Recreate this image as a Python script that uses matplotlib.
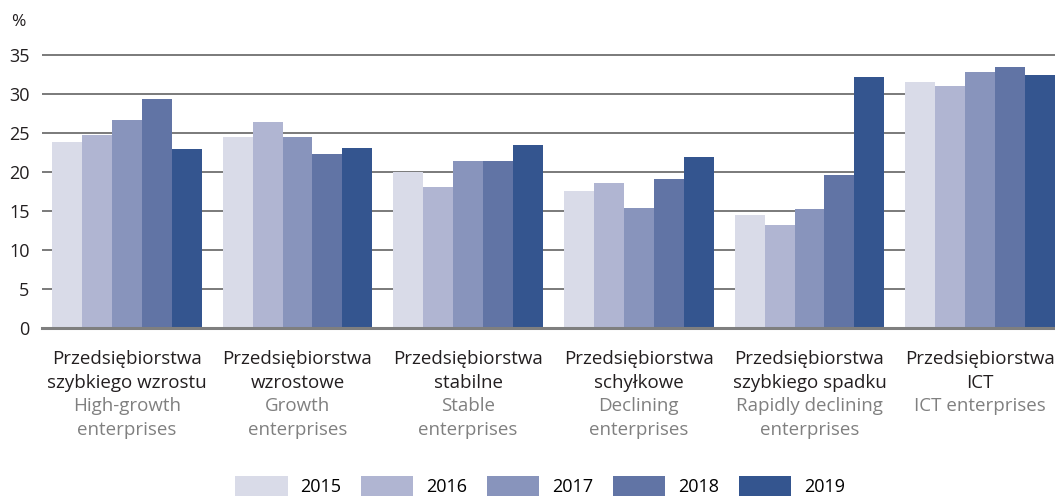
import matplotlib.pyplot as plt
import numpy as np

plt.rcParams['font.family'] = ['Open Sans', 'DejaVu Sans']

years = ['2015', '2016', '2017', '2018', '2019']
colors = ['#d9dbe8', '#b0b5d2', '#8894bc', '#6174a5', '#34558f']

labels_pl = ['Przedsiębiorstwa\nszybkiego wzrostu', 'Przedsiębiorstwa\nwzrostowe',
             'Przedsiębiorstwa\nstabilne', 'Przedsiębiorstwa\nschyłkowe',
             'Przedsiębiorstwa\nszybkiego spadku', 'Przedsiębiorstwa\nICT']
labels_en = ['High-growth\nenterprises', 'Growth\nenterprises', 'Stable\nenterprises',
             'Declining\nenterprises', 'Rapidly declining\nenterprises', 'ICT enterprises']

v2015 = [23.9, 24.5, 20.0, 17.6, 14.5, 31.6]
v2016 = [24.8, 26.5, 18.1, 18.6, 13.2, 31.1]
v2017 = [26.7, 24.5, 21.4, 15.4, 15.3, 32.9]
v2018 = [29.4, 22.3, 21.4, 19.1, 19.7, 33.5]
v2019 = [23.0, 23.1, 23.5, 22.0, 32.2, 32.5]
series = [v2015, v2016, v2017, v2018, v2019]

W, H = 1055, 497
fig = plt.figure(figsize=(W / 100, H / 100), dpi=100)
ax = fig.add_axes([42 / W, (H - 328.3) / H, 1 - 42 / W, (328.3 - 51.4) / H])

x = np.arange(len(labels_pl))
w = 30 / 171
for j, vals in enumerate(series):
    ax.bar(x + (j - 2) * w, vals, width=w, color=colors[j], label=years[j], zorder=3)

ax.set_xlim(-0.497, 5 + 2.5 * w)
ax.set_ylim(0, 35.5)
ax.set_yticks(range(0, 36, 5))
for t in range(5, 36, 5):
    ax.axhline(t, color='#7a7a7a', lw=1.4, zorder=1)
ax.axhline(0, color='#7f7f7f', lw=2.2, zorder=4, clip_on=False)
for s in ax.spines.values():
    s.set_visible(False)
ax.tick_params(axis='y', length=0, pad=9, labelsize=13, labelcolor='#231f20')
ax.set_xticks([])

fig.text(18 / W, (H - 22) / H, '%', ha='center', va='center', fontsize=12.5, color='#231f20')

# category labels: polish (black), english (gray)
baselines = [364, 388, 411, 435]
tr = ax.get_xaxis_transform()
for i in range(len(labels_pl)):
    pl = labels_pl[i].split('\n')
    en = labels_en[i].split('\n')
    cols = ['#231f20'] * len(pl) + ['#808080'] * len(en)
    for k, (ln, c) in enumerate(zip(pl + en, cols)):
        yy = fig.transFigure.transform((0, (H - baselines[k]) / H))[1]
        ytxt = ax.transAxes.inverted().transform((0, yy))[1]
        ax.text(x[i], ytxt, ln, transform=tr, ha='center', va='baseline',
                fontsize=13.5, color=c, clip_on=False)

fig.legend(loc='upper center', bbox_to_anchor=(540 / W, (H - 476) / H), ncol=5,
           frameon=False, fontsize=13, handlelength=2.9, handleheight=1.35,
           handletextpad=0.7, columnspacing=1.1, borderpad=0, borderaxespad=0)

fig.savefig('out.png', dpi=100)
